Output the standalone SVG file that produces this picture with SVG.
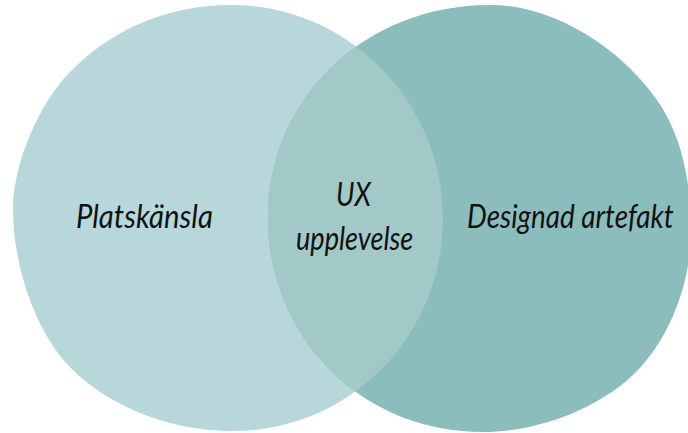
<svg xmlns="http://www.w3.org/2000/svg" width="688" height="433" viewBox="0 0 688 433">
  <style>
    .lbl { font-family: "Lato", "Open Sans", "DejaVu Sans", sans-serif; font-style: italic; font-size: 33px; fill: #111; }
  </style>
  <defs>
    <!-- hand-drawn looking blobs -->
    <path id="leftShape" d="M13,210 C13,160 42,100 70,72 C108,33 162,5 232,5 C348,5 443,102 443,218 C443,336 350,431 233,431 C158,431 86,396 53,346 C31,313 13,260 13,210 Z"/>
    <path id="rightShape" d="M490,5 C560,5 626,55 657,100 C683,137 691,185 691,230 C691,290 664,353 620,386 C582,415 530,432 483,432 C360,432 268,336 268,218 C268,98 365,5 490,5 Z"/>
    <clipPath id="rightClip"><use href="#rightShape"/></clipPath>
  </defs>

  <g id="platskansla">
    <use href="#leftShape" fill="#b7d7da"/>
  </g>
  <g id="designad-artefakt">
    <use href="#rightShape" fill="#8bbdbc"/>
  </g>
  <g id="ux-upplevelse">
    <use href="#leftShape" fill="#a2c8c8" clip-path="url(#rightClip)"/>
  </g>

  <!-- labels: condensed by a horizontal scale -->
  <g id="labels">
    <text class="lbl" transform="translate(76,228) scale(0.85,1)" textLength="161" lengthAdjust="spacingAndGlyphs">Platskänsla</text>
    <text class="lbl" transform="translate(336,206) scale(0.85,1)" textLength="41" lengthAdjust="spacingAndGlyphs">UX</text>
    <text class="lbl" transform="translate(296,250) scale(0.85,1)" textLength="138" lengthAdjust="spacingAndGlyphs">upplevelse</text>
    <text class="lbl" transform="translate(467,228) scale(0.85,1)" textLength="243" lengthAdjust="spacingAndGlyphs">Designad artefakt</text>
  </g>
</svg>
